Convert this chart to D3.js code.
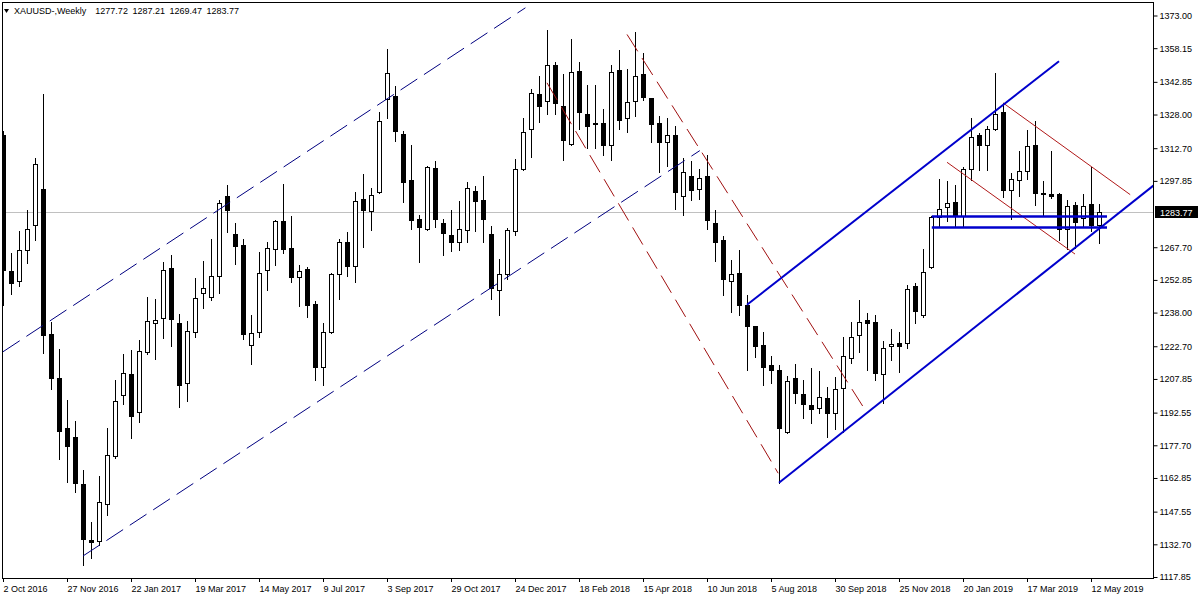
<!DOCTYPE html>
<html><head><meta charset="utf-8">
<script src="https://cdn.jsdelivr.net/npm/d3@7"></script>
<style>
html,body{margin:0;padding:0;background:#fff;}
svg{display:block;}
text{font-family:"Liberation Sans",Arial,sans-serif;}
</style></head><body>
<svg id="chart" width="1200" height="600"></svg>
<script>
// ---- data (weekly XAUUSD, week index 0 = 2 Oct 2016) ----
const opens = [1318.9,1257.0,1252.2,1266.3,1277.6,1294.3,1228.2,1208.2,1185.5,1181.4,
1160.0,1134.5,1134.4,1150.9,1173.0,1200.5,1210.2,1193.0,1220.3,1233.2,
1235.5,1258.2,1233.2,1205.9,1229.1,1246.9,1245.3,1254.4,1291.1,1273.7,
1268.8,1223.2,1229.1,1257.5,1266.9,1279.8,1267.3,1254.0,1257.8,1242.0,
1213.2,1229.0,1255.5,1270.3,1259.0,1289.6,1284.3,1292.6,1335.1,1336.6,
1319.3,1298.4,1280.7,1276.1,1303.7,1278.7,1273.4,1270.3,1275.4,1293.4,
1289.3,1273.9,1248.4,1255.5,1274.9,1303.3,1321.2,1337.5,1334.3,1350.3,
1332.1,1314.6,1348.0,1328.3,1324.0,1324.2,1314.0,1348.4,1326.5,1334.3,
1346.6,1335.6,1324.2,1315.6,1318.9,1290.8,1300.2,1294.2,1300.2,1278.7,
1270.8,1252.2,1256.0,1241.6,1231.7,1223.4,1214.3,1212.0,1183.9,1208.2,
1201.1,1196.1,1194.6,1199.1,1192.6,1203.7,1217.3,1227.9,1234.7,1233.7,
1210.0,1222.9,1224.1,1224.1,1250.2,1236.7,1258.5,1281.4,1286.0,1288.1,
1282.0,1303.3,1318.9,1314.0,1321.5,1329.2,1293.9,1298.4,1302.5,1314.3,
1292.4,1291.9,1292.0,1276.0,1287.0,1281.0,1287.5,1277.72];
const highs = [1320.4,1265.1,1274.9,1284.8,1308.3,1337.5,1233.7,1221.4,1198.4,1188.8,
1166.5,1142.7,1163.8,1185.5,1207.4,1219.3,1220.8,1225.6,1245.3,1244.3,
1260.8,1264.3,1237.3,1234.3,1253.7,1261.6,1271.4,1289.3,1296.1,1278.7,
1271.4,1237.0,1265.7,1270.3,1280.2,1296.6,1281.7,1259.4,1258.5,1243.4,
1233.2,1256.0,1271.4,1274.6,1292.8,1301.0,1294.6,1329.2,1357.9,1340.8,
1320.7,1314.3,1282.5,1304.5,1306.7,1280.5,1284.8,1288.9,1297.4,1295.4,
1299.9,1277.5,1262.3,1276.4,1308.0,1326.5,1339.7,1345.4,1366.6,1352.0,
1346.6,1362.1,1351.8,1341.6,1341.2,1330.6,1350.7,1357.1,1348.9,1365.6,
1356.0,1335.6,1327.2,1326.5,1323.0,1308.3,1307.0,1303.4,1309.8,1284.8,
1272.9,1261.7,1266.6,1246.1,1231.7,1229.1,1218.4,1214.3,1209.3,1214.7,
1207.4,1213.0,1211.5,1204.4,1208.7,1227.1,1233.7,1243.8,1237.8,1237.0,
1225.3,1230.5,1229.1,1250.7,1251.4,1267.0,1282.0,1298.7,1297.6,1296.1,
1304.2,1326.5,1319.5,1323.0,1346.9,1333.3,1301.5,1311.6,1320.8,1324.9,
1297.6,1311.3,1292.4,1289.3,1288.1,1292.0,1304.2,1287.21];
const lows = [1241.6,1246.4,1250.3,1260.5,1271.1,1219.6,1203.2,1171.4,1161.2,1156.6,
1123.3,1126.4,1132.4,1146.0,1172.1,1196.4,1180.8,1188.5,1219.3,1216.9,
1226.4,1223.0,1195.3,1197.6,1227.1,1240.1,1243.8,1246.9,1274.4,1260.1,
1226.0,1214.6,1227.1,1248.1,1259.4,1265.1,1251.7,1241.2,1236.2,1207.4,
1204.9,1228.7,1244.1,1254.4,1251.7,1267.8,1275.4,1292.4,1326.5,1315.8,
1288.1,1276.0,1260.8,1275.4,1276.9,1264.0,1265.8,1266.3,1270.3,1274.9,
1270.3,1244.1,1236.7,1253.2,1273.4,1303.0,1308.7,1324.5,1328.4,1328.4,
1307.2,1314.3,1321.5,1312.8,1313.0,1309.8,1307.2,1321.5,1319.9,1327.2,
1334.8,1315.4,1301.7,1304.5,1285.2,1282.2,1289.3,1289.8,1276.0,1261.6,
1246.1,1238.1,1236.7,1211.7,1217.8,1204.9,1206.2,1160.7,1183.2,1196.8,
1190.0,1188.0,1192.3,1181.4,1185.0,1183.9,1215.0,1220.3,1212.0,1207.4,
1196.8,1216.5,1211.2,1221.9,1233.2,1236.2,1258.2,1276.9,1279.4,1276.9,
1276.9,1298.4,1303.0,1302.6,1320.8,1290.5,1280.7,1290.8,1298.7,1286.7,
1281.7,1290.1,1271.1,1266.9,1267.3,1277.2,1274.9,1269.47];
const closes = [1257.2,1251.4,1266.3,1276.0,1305.6,1227.6,1208.2,1184.4,1177.6,1160.5,
1135.0,1133.6,1152.1,1173.2,1197.9,1210.5,1191.2,1220.6,1234.3,1234.7,
1257.5,1235.1,1205.2,1229.7,1244.6,1249.2,1254.4,1287.8,1284.4,1268.1,
1228.4,1228.7,1256.0,1267.3,1279.8,1267.0,1254.0,1257.0,1241.6,1213.5,
1229.1,1255.5,1270.1,1259.0,1288.9,1284.4,1291.3,1324.9,1346.9,1320.4,
1297.2,1279.9,1276.9,1304.2,1280.5,1274.2,1269.9,1276.0,1294.6,1288.5,
1280.7,1249.2,1255.5,1275.7,1303.4,1320.1,1337.8,1331.7,1350.3,1333.3,
1316.3,1347.4,1329.0,1322.7,1323.6,1314.0,1347.4,1325.4,1333.7,1345.7,
1335.8,1323.7,1315.4,1318.9,1292.6,1301.9,1293.5,1299.2,1279.9,1269.9,
1253.2,1255.5,1241.6,1232.1,1223.0,1213.5,1211.7,1185.5,1206.7,1201.4,
1196.4,1194.1,1199.6,1192.6,1203.2,1218.4,1226.9,1233.7,1233.2,1210.5,
1221.9,1223.7,1222.9,1248.7,1238.5,1256.4,1281.4,1285.1,1287.8,1282.0,
1303.3,1317.8,1314.3,1321.5,1328.4,1293.5,1298.9,1302.5,1313.6,1292.4,
1291.7,1290.8,1276.0,1286.6,1279.0,1286.6,1277.6,1283.77];

const dateTickIndex = [0,8,16,24,32,40,48,56,64,72,80,88,96,104,112,120,128,136];
const dateTickLabels = ["2 Oct 2016","27 Nov 2016","22 Jan 2017","19 Mar 2017","14 May 2017",
"9 Jul 2017","3 Sep 2017","29 Oct 2017","24 Dec 2017","18 Feb 2018","15 Apr 2018",
"10 Jun 2018","5 Aug 2018","30 Sep 2018","25 Nov 2018","20 Jan 2019","17 Mar 2019","12 May 2019"];
const priceTicks = [1373.00,1358.15,1342.85,1328.00,1312.70,1297.85,1267.70,1252.85,
1238.00,1222.70,1207.85,1192.55,1177.70,1162.85,1147.55,1132.70,1117.85];
const lastPrice = 1283.77;
const titleSymbol = "XAUUSD-,Weekly";
const titleOHLC = [1277.72, 1287.21, 1269.47, 1283.77];

// drawn objects in data coordinates: [index1, price1, index2, price2]
const navyChannel = [[0,1220.2,65.3,1376.5],[10,1127.4,87.1,1311.6]];
const redDashed   = [[78,1364.4,107.9,1193.0],[68,1342.4,96.9,1165.0]];
const blueChannel = [[93,1241.6,132,1352.2],[97,1160.7,143.8,1295.7]];
const redThin     = [[125,1333.3,140.9,1291.6],[118,1306.3,134,1264.6]];
const blueLevels  = [[116.1,1281.7,138,1281.7],[116.1,1276.7,138,1276.7]];

// ---- drawing ----
const svg = d3.select("#chart");
const L = 2, T = 2, R = 1153, B = 578;
const x = d3.scaleLinear().domain([0, 137]).range([3, 1099]);
const y = d3.scaleLinear().domain([1117.85, 1373]).range([577, 15.5]);

svg.append("defs").append("clipPath").attr("id","plot")
  .append("rect").attr("x",L+1).attr("y",T+1).attr("width",R-L-1).attr("height",B-T-1);

const plot = svg.append("g").attr("clip-path","url(#plot)");

// current price line
plot.append("line")
  .attr("x1",L).attr("x2",R)
  .attr("y1",Math.round(y(lastPrice))+0.5).attr("y2",Math.round(y(lastPrice))+0.5)
  .attr("stroke","#c0c0c0").attr("stroke-width",1);

// candles
const candles = opens.map((o,i)=>({i,o,h:highs[i],l:lows[i],c:closes[i]}));
const cg = plot.append("g");
candles.forEach(d=>{
  const cx = Math.round(x(d.i));
  cg.append("line")
    .attr("x1",cx+0.5).attr("x2",cx+0.5)
    .attr("y1",Math.round(y(d.h))).attr("y2",Math.round(y(d.l))+1)
    .attr("stroke","#000").attr("stroke-width",1);
  const yt = Math.round(y(Math.max(d.o,d.c)));
  const yb = Math.round(y(Math.min(d.o,d.c)));
  const bull = d.c >= d.o;
  cg.append("rect")
    .attr("x",cx-2+0.5).attr("y",yt+0.5)
    .attr("width",4).attr("height",Math.max(0,yb-yt))
    .attr("fill",bull?"#fff":"#000").attr("stroke","#000").attr("stroke-width",1);
});

function seg(g, arr, color, width, dash){
  arr.forEach(s=>{
    g.append("line")
      .attr("x1",x(s[0])).attr("y1",y(s[1]))
      .attr("x2",x(s[2])).attr("y2",y(s[3]))
      .attr("stroke",color).attr("stroke-width",width)
      .attr("stroke-dasharray",dash||null);
  });
}
seg(plot, navyChannel, "#000080", 1, "20,8");
seg(plot, redDashed, "#a01010", 1, "20,8");
seg(plot, redThin, "#b01818", 1);
seg(plot, blueChannel, "#0000cc", 2);
seg(plot, blueLevels, "#0000cc", 2.5);

// frame
svg.append("rect").attr("x",L+0.5).attr("y",T+0.5)
  .attr("width",R-L).attr("height",B-T)
  .attr("fill","none").attr("stroke","#000").attr("stroke-width",1);

// right price axis
const ya = svg.append("g").attr("transform",`translate(${R+0.5},0)`)
  .call(d3.axisRight(y).tickValues(priceTicks).tickSize(4).tickPadding(2)
    .tickFormat(d=>d.toFixed(2)));
ya.select(".domain").remove();
ya.selectAll("text").attr("font-size",9).attr("font-family","'Liberation Sans',Arial,sans-serif").attr("fill","#000");
ya.selectAll("line").attr("stroke","#000");

// current price tag
const ly = y(lastPrice);
svg.append("rect").attr("x",R+2).attr("y",Math.round(ly)-6).attr("width",43).attr("height",12).attr("fill","#000");
svg.append("text").attr("x",R+7).attr("y",Math.round(ly)+3.5)
  .attr("font-size",9).attr("fill","#fff").text(lastPrice.toFixed(2));

// bottom date axis
const xa = svg.append("g").attr("transform",`translate(0,${B})`)
  .call(d3.axisBottom(x).tickValues(dateTickIndex).tickSize(4).tickPadding(4)
    .tickFormat((d,k)=>dateTickLabels[k]));
xa.select(".domain").remove();
xa.selectAll("text").attr("font-size",9).attr("text-anchor","start").attr("x",0)
  .attr("font-family","'Liberation Sans',Arial,sans-serif").attr("fill","#000");
xa.selectAll("line").attr("stroke","#000");

// title
svg.append("path").attr("d","M4,9 L9,9 L6.5,13 Z").attr("fill","#000");
svg.append("text").attr("x",14).attr("y",14).attr("font-size",9).attr("fill","#000")
  .attr("xml:space","preserve").attr("word-spacing",2)
  .text(titleSymbol + "  " + titleOHLC.map(v=>v.toFixed(2)).join(" "));
</script>
</body></html>
